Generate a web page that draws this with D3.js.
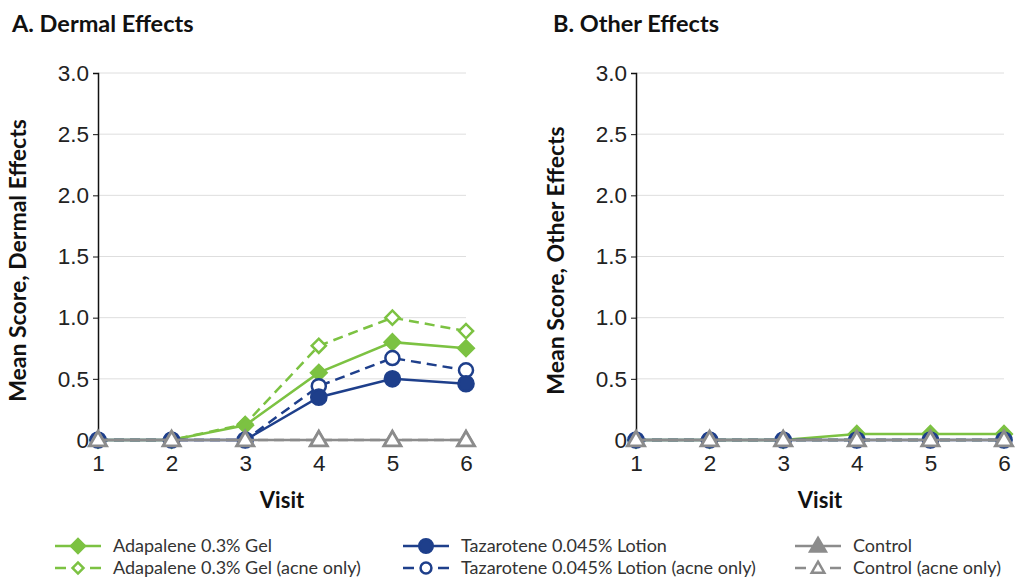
<!DOCTYPE html>
<html>
<head>
<meta charset="utf-8">
<script src="https://cdn.jsdelivr.net/npm/d3@7"></script>
<style>
  body { margin: 0; background: #fff; }
  svg { font-family: Lato, "Open Sans", sans-serif; }
  .panel-title, .axis-title { font-weight: bold; fill: #111; }
  .tick text { font-size: 22.5px; fill: #222; }
  .legend text { font-size: 18px; fill: #333; }
</style>
</head>
<body>
<div id="chart"></div>
<script>
const visits = [1, 2, 3, 4, 5, 6];
const yTicks = [0, 0.5, 1.0, 1.5, 2.0, 2.5, 3.0];

// panel A: dermal effects
const dermalAdapalene     = [0, 0, 0.12, 0.55, 0.80, 0.75];
const dermalAdapaleneAcne = [0, 0, 0.13, 0.77, 1.00, 0.89];
const dermalTazarotene    = [0, 0, 0, 0.35, 0.50, 0.46];
const dermalTazaroteneAcne= [0, 0, 0, 0.44, 0.67, 0.57];
const dermalControl       = [0, 0, 0, 0, 0, 0];
const dermalControlAcne   = [0, 0, 0, 0, 0, 0];

// panel B: other effects
const otherAdapalene      = [0, 0, 0, 0.05, 0.05, 0.05];
const otherAdapaleneAcne  = [0, 0, 0, 0, 0, 0];
const otherTazarotene     = [0, 0, 0, 0, 0, 0];
const otherTazaroteneAcne = [0, 0, 0, 0, 0, 0];
const otherControl        = [0, 0, 0, 0, 0, 0];
const otherControlAcne    = [0, 0, 0, 0, 0, 0];

const green = '#7cc242', navy = '#1e3f8b', grey = '#8c8c8c';

const seriesStyle = [
  {name: 'Adapalene 0.3% Gel', color: green, symbol: 'diamond', filled: true, dash: null, size: 120},
  {name: 'Adapalene 0.3% Gel (acne only)', color: green, symbol: 'diamond', filled: false, dash: '10,6', size: 100},
  {name: 'Tazarotene 0.045% Lotion', color: navy, symbol: 'circle', filled: true, dash: null, size: 180},
  {name: 'Tazarotene 0.045% Lotion (acne only)', color: navy, symbol: 'circle', filled: false, dash: '10,6', size: 155},
  {name: 'Control', color: grey, symbol: 'triangle', filled: true, dash: null, size: 135},
  {name: 'Control (acne only)', color: grey, symbol: 'triangle', filled: false, dash: '10,6', size: 115}
];

const symbolTypes = {diamond: d3.symbolSquare, circle: d3.symbolCircle, triangle: d3.symbolTriangle};
const markerTransform = (s, px, py) =>
  s.symbol === 'diamond' ? `translate(${px},${py}) rotate(45)` :
  s.symbol === 'triangle' ? `translate(${px},${py + 1})` : `translate(${px},${py})`;

const panels = [
  {title: 'A. Dermal Effects', yTitle: 'Mean Score, Dermal Effects', left: 98, titleX: 12,
   values: [dermalAdapalene, dermalAdapaleneAcne, dermalTazarotene, dermalTazaroteneAcne, dermalControl, dermalControlAcne]},
  {title: 'B. Other Effects', yTitle: 'Mean Score, Other Effects', left: 636, titleX: 553,
   values: [otherAdapalene, otherAdapaleneAcne, otherTazarotene, otherTazaroteneAcne, otherControl, otherControlAcne]}
];

const width = 1018, height = 580;
const plotW = 368, plotTop = 73, plotBottom = 440;

const svg = d3.select('#chart').append('svg')
  .attr('width', width)
  .attr('height', height);

const y = d3.scaleLinear().domain([0, 3]).range([plotBottom, plotTop]);

panels.forEach(p => {
  const x = d3.scaleLinear().domain([1, 6]).range([p.left, p.left + plotW]);
  const g = svg.append('g');

  g.append('text')
    .attr('class', 'panel-title')
    .attr('x', p.titleX)
    .attr('y', 32)
    .style('font-size', '23.5px')
    .text(p.title);

  // gridlines
  g.selectAll('.grid')
    .data(yTicks.filter(t => t > 0))
    .join('line')
    .attr('x1', p.left).attr('x2', p.left + plotW)
    .attr('y1', d => y(d)).attr('y2', d => y(d))
    .attr('stroke', '#dedede')
    .attr('stroke-width', 1);

  // y axis
  const yAxis = g.append('g')
    .attr('transform', `translate(${p.left},0)`)
    .call(d3.axisLeft(y).tickValues(yTicks).tickSize(5).tickPadding(4)
      .tickFormat(d => d === 0 ? '0' : d3.format('.1f')(d)));
  yAxis.select('.domain').attr('stroke', '#111').attr('stroke-width', 1.5);
  yAxis.selectAll('.tick line').attr('stroke', '#111');

  // x axis
  const xAxis = g.append('g')
    .attr('transform', `translate(0,${plotBottom})`)
    .call(d3.axisBottom(x).tickValues(visits).tickSize(0).tickPadding(15).tickFormat(d3.format('d')));
  xAxis.select('.domain').remove();

  g.append('text')
    .attr('class', 'axis-title')
    .attr('x', p.left + plotW / 2)
    .attr('y', 508)
    .attr('text-anchor', 'middle')
    .style('font-size', '22px')
    .text('Visit');

  g.append('text')
    .attr('class', 'axis-title')
    .attr('transform', `translate(${p.left - 72},${(plotTop + plotBottom) / 2 + 4}) rotate(-90)`)
    .attr('text-anchor', 'middle')
    .style('font-size', '23px')
    .text(p.yTitle);

  const line = d3.line().x((d, i) => x(visits[i])).y(d => y(d));

  // draw order: adapalene, tazarotene, control (acne only on top)
  const order = [1, 0, 3, 2, 4, 5];
  order.forEach(si => {
    const s = seriesStyle[si];
    const vals = p.values[si];
    g.append('path')
      .datum(vals)
      .attr('d', line)
      .attr('fill', 'none')
      .attr('stroke', s.color)
      .attr('stroke-width', 2.5)
      .attr('stroke-dasharray', s.dash);
    g.selectAll(null)
      .data(vals)
      .join('path')
      .attr('transform', (d, i) => markerTransform(s, x(visits[i]), y(d)))
      .attr('d', d3.symbol(symbolTypes[s.symbol], s.size))
      .attr('fill', s.filled ? s.color : '#fff')
      .attr('stroke', s.color)
      .attr('stroke-width', 2.5);
  });
});

// legend
const legendCols = [55, 403, 795];
const legend = svg.append('g').attr('class', 'legend');
seriesStyle.forEach((s, i) => {
  const col = Math.floor(i / 2), row = i % 2;
  const lx = legendCols[col], ly = 546 + row * 22;
  const item = legend.append('g').attr('transform', `translate(${lx},${ly})`);
  item.append('line')
    .attr('x1', 0).attr('x2', 46)
    .attr('stroke', s.color)
    .attr('stroke-width', 2.5)
    .attr('stroke-dasharray', s.dash ? '11,24' : null);
  item.append('path')
    .attr('transform', markerTransform(s, 23, 0))
    .attr('d', d3.symbol(symbolTypes[s.symbol], s.filled ? s.size * 0.8 : s.size * 0.6))
    .attr('fill', s.filled ? s.color : '#fff')
    .attr('stroke', s.color)
    .attr('stroke-width', 2.5);
  item.append('text')
    .attr('x', 58)
    .attr('dy', '0.35em')
    .text(s.name);
});
</script>
</body>
</html>
